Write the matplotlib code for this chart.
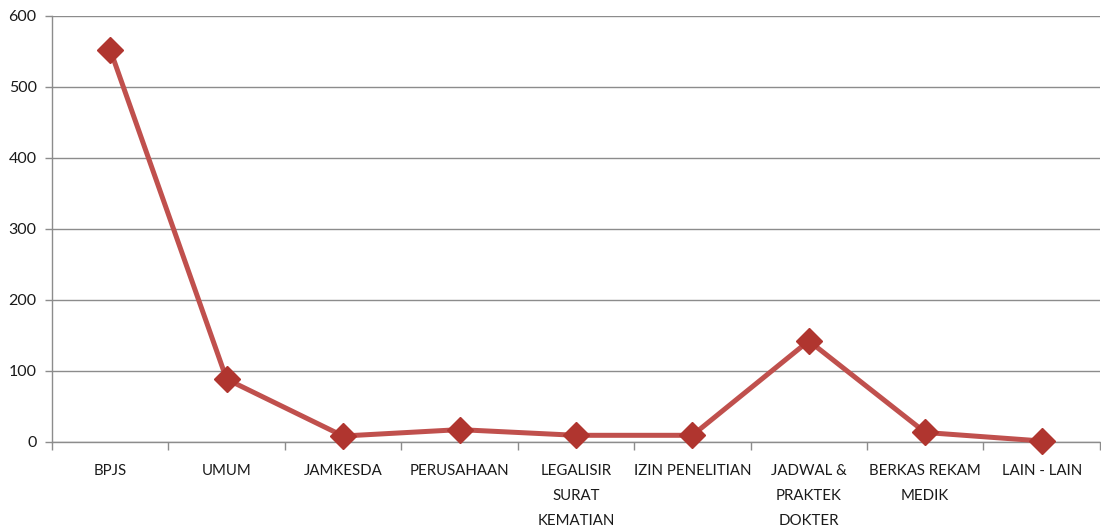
import numpy as np
import matplotlib.pyplot as plt
from matplotlib.ticker import FixedLocator, MultipleLocator

categories = ['BPJS', 'UMUM', 'JAMKESDA', 'PERUSAHAAN', 'LEGALISIR\nSURAT\nKEMATIAN',
              'IZIN PENELITIAN', 'JADWAL &\nPRAKTEK\nDOKTER', 'BERKAS REKAM\nMEDIK', 'LAIN - LAIN']
values = [552, 88, 8, 17, 9, 9, 142, 13, 1]

plt.rcParams['font.family'] = ['Lato', 'DejaVu Sans']

fig = plt.figure(figsize=(11.01, 5.31), dpi=100)
ax = fig.add_axes([52 / 1101, 1 - 441.7 / 531, 1 - 52 / 1101 - 0.001, (441.7 - 15.7) / 531])

x = np.arange(len(categories))
ax.plot(x, values, color='#C0504D', linewidth=3.6, marker='D', markersize=13,
        markerfacecolor='#B0352F', markeredgecolor='#B0352F', zorder=3, clip_on=False)

ax.set_xlim(-0.5, len(categories) - 0.5)
ax.set_ylim(0, 600)
ax.yaxis.set_major_locator(MultipleLocator(100))
ax.grid(axis='y', color='#8C8C8C', linewidth=1)
ax.set_axisbelow(True)

ax.set_xticks(x)
ax.set_xticklabels(categories, linespacing=2.0, fontsize=10.8, color='#1a1a1a')
ax.tick_params(axis='x', which='major', length=0, pad=16)
ax.xaxis.set_minor_locator(FixedLocator(np.arange(-0.5, len(categories), 1)))
ax.tick_params(axis='x', which='minor', length=6, color='#8C8C8C', width=1)
ax.tick_params(axis='y', length=5, color='#8C8C8C', width=1, labelsize=11.5,
               labelcolor='#1a1a1a', pad=6)

for s in ['top', 'right']:
    ax.spines[s].set_visible(False)
for s in ['left', 'bottom']:
    ax.spines[s].set_color('#8C8C8C')
    ax.spines[s].set_linewidth(1)

fig.savefig('out.png', dpi=100)
